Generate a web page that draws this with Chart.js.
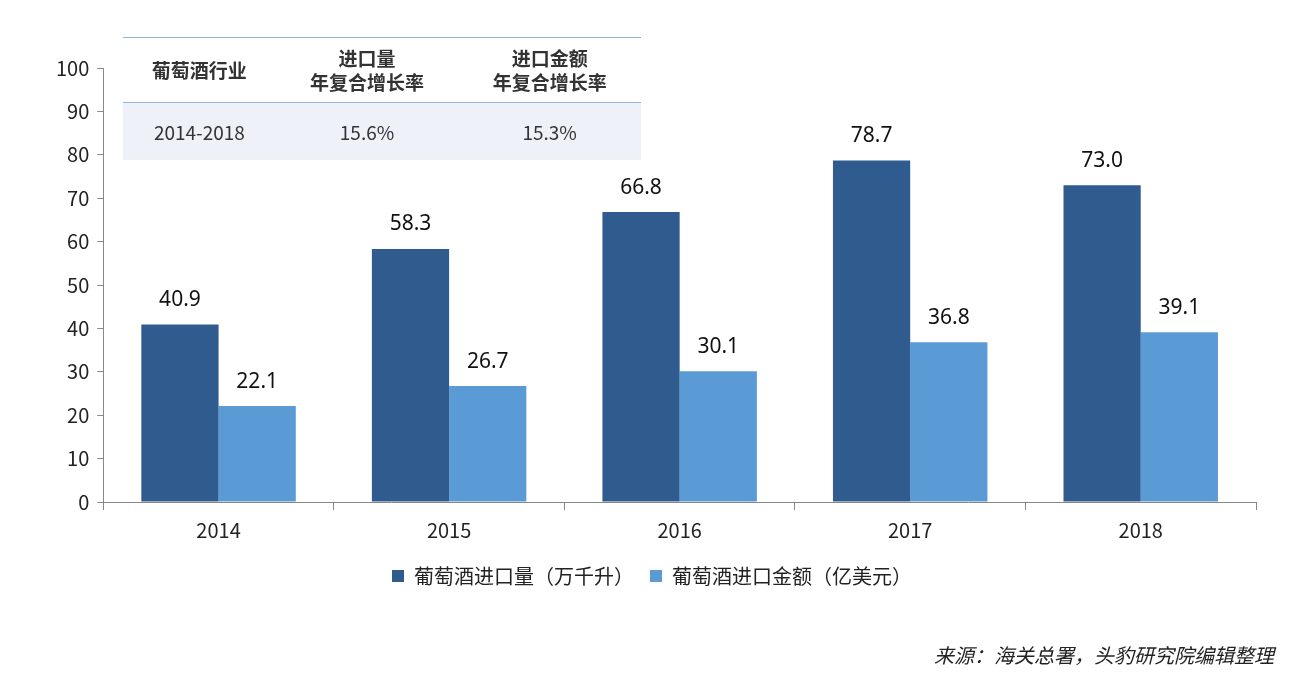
<!DOCTYPE html>
<html><head><meta charset="utf-8">
<script src="https://cdn.jsdelivr.net/npm/chart.js@4/dist/chart.umd.min.js"></script>
<style>
body{margin:0;background:#fff;font-family:"Noto Sans CJK SC","Noto Sans",sans-serif;}
#wrap{position:relative;width:1296px;height:682px;}
#tbl{position:absolute;left:123px;top:37px;width:518px;border-collapse:collapse;font-size:19px;color:#333;text-align:center;}
#tbl th{font-weight:bold;height:62px;border-top:1px solid #8fb4dd;border-bottom:1px solid #8fb4dd;background:#fff;line-height:24px;}
#tbl td{height:55px;background:#eef1f8;}
#src{position:absolute;right:22px;top:640px;font-size:20px;font-style:italic;color:#222;}
</style></head><body>
<div id="wrap">
<canvas id="c" width="1296" height="682"></canvas>
<table id="tbl"><tr><th>葡萄酒行业</th><th>进口量<br>年复合增长率</th><th>进口金额<br>年复合增长率</th></tr>
<tr><td>2014-2018</td><td>15.6%</td><td>15.3%</td></tr></table>
<div id="src">来源：海关总署，头豹研究院编辑整理</div>
</div>
<script>
const years = ['2014','2015','2016','2017','2018'];
const volume = [40.9, 58.3, 66.8, 78.7, 73.0];
const amount = [22.1, 26.7, 30.1, 36.8, 39.1];

Chart.defaults.font.family = '"Noto Sans CJK SC", "Noto Sans", sans-serif';

const labelPlugin = {
  id: 'vals',
  afterDatasetsDraw(chart) {
    const ctx = chart.ctx;
    ctx.save();
    ctx.font = '21px "Noto Sans", sans-serif';
    ctx.fillStyle = '#111';
    ctx.textAlign = 'center';
    ctx.textBaseline = 'bottom';
    chart.data.datasets.forEach((ds, i) => {
      chart.getDatasetMeta(i).data.forEach((bar, j) => {
        ctx.fillText(ds.data[j].toFixed(1), bar.x, bar.y - 14);
      });
    });
    ctx.restore();
  }
};

new Chart(document.getElementById('c'), {
  type: 'bar',
  data: {
    labels: years,
    datasets: [
      { label: '葡萄酒进口量（万千升）', data: volume, backgroundColor: '#2f5b8f' },
      { label: '葡萄酒进口金额（亿美元）', data: amount, backgroundColor: '#5b9bd5' }
    ]
  },
  options: {
    responsive: false,
    animation: false,
    layout: { padding: { left: 48, right: 40, top: 68, bottom: 86 } },
    datasets: { bar: { categoryPercentage: 0.67, barPercentage: 1 } },
    scales: {
      x: {
        grid: { display: true, drawOnChartArea: false, offset: true, tickLength: 8, color: '#888' },
        border: { color: '#888' },
        ticks: { color: '#222', font: { size: 20 }, padding: 8 }
      },
      y: {
        min: 0, max: 100,
        ticks: { stepSize: 10, color: '#222', font: { size: 20 }, padding: 8 },
        grid: { display: true, drawOnChartArea: false, tickLength: 6, color: '#888' },
        border: { color: '#888' }
      }
    },
    plugins: {
      legend: {
        position: 'bottom',
        labels: { boxWidth: 12, boxHeight: 12, color: '#222', font: { size: 20 }, padding: 16 }
      },
      tooltip: { enabled: false }
    }
  },
  plugins: [labelPlugin]
});
</script>
</body></html>
